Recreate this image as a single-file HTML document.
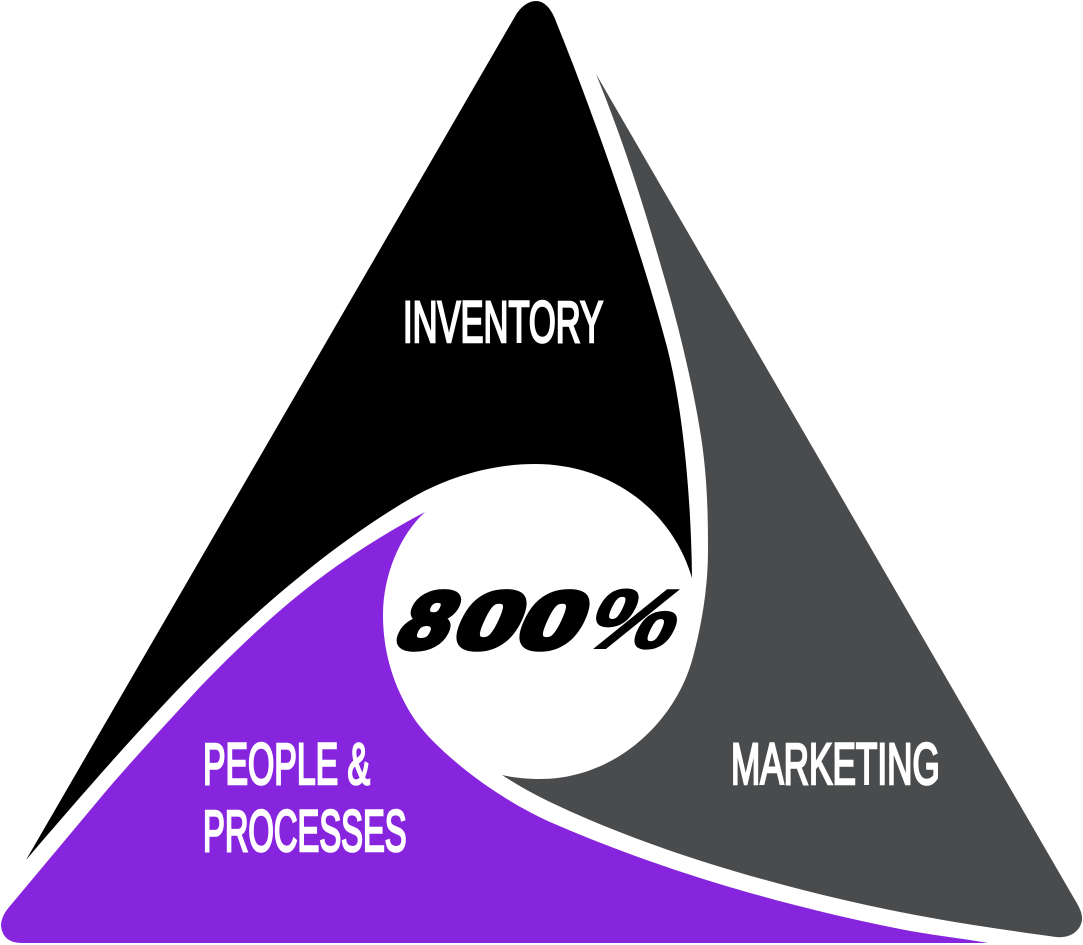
<!DOCTYPE html>
<html><head><meta charset="utf-8"><style>
html,body{margin:0;padding:0;background:#fff}
svg{display:block}
text{font-family:"Liberation Sans",sans-serif}
.l{font-weight:400;fill:#fff;stroke:#fff;stroke-width:2.6}
.n{font-weight:700;fill:#000;stroke:#000;stroke-width:6;stroke-linejoin:round}
.p{font-weight:700;fill:#000;stroke:#000;stroke-width:2}
</style></head><body>
<svg width="1083" height="945" viewBox="0 0 1083 945" xmlns="http://www.w3.org/2000/svg">
<path fill="#000" d="M26,860 L517,13 Q526,1 536,1 Q549,1 557,24 C590,105 640,245 667,347 C682,405 691,490 692,578 C672,510 610,464 535,464 C490,464 445,478 408,500 C335,543 262,605 200,667 C150,717 90,785 26,860 Z"/>
<path fill="#4a4b4d" d="M596,74 L1075,900 C1083,913 1084,920 1079,928 C1074,935 1066,938 1056,937 C1005,930 950,922 900,912 C780,888 650,850 550,802 Q525,790 502,775 C515,778 528,779 540,779 C615,779 676,722 693,657 C701,627 708,590 708,550 C708,510 707,480 702,443 C695,395 680,330 663,273 C645,210 625,145 596,74 Z"/>
<path fill="#8724de" d="M425,512 C400,525 375,540 350,557 C300,590 250,635 200,687 C165,725 130,763 107,790 L10,906 Q1,916 1,926 Q3,943 22,943 L988,943 C960,938 930,935 900,929 C780,905 660,870 550,822 C500,800 440,755 415,720 C395,690 383,655 383,615 C383,575 400,535 425,512 Z"/>
<text class="l" transform="translate(403,342) scale(.58,1)" font-size="58" textLength="345" lengthAdjust="spacingAndGlyphs">INVENTORY</text>
<text class="l" transform="translate(731,784) scale(.58,1)" font-size="58" textLength="360" lengthAdjust="spacingAndGlyphs">MARKETING</text>
<text class="l" transform="translate(203,784) scale(.58,1)" font-size="58" textLength="288" lengthAdjust="spacingAndGlyphs">PEOPLE &amp;</text>
<text class="l" transform="translate(203,851) scale(.58,1)" font-size="58" textLength="351" lengthAdjust="spacingAndGlyphs">PROCESSES</text>
<g transform="translate(0,648) skewX(-25)">
<text class="n" transform="translate(392,0) scale(1.1,1)" font-size="80">8</text>
<text class="n" transform="translate(448,0) scale(1.38,1)" font-size="80">0</text>
<text class="n" transform="translate(511,0) scale(1.38,1)" font-size="80">0</text>
<text class="p" transform="translate(579,0) scale(1.18,1)" font-size="84">%</text>
</g>
</svg>
</body></html>
